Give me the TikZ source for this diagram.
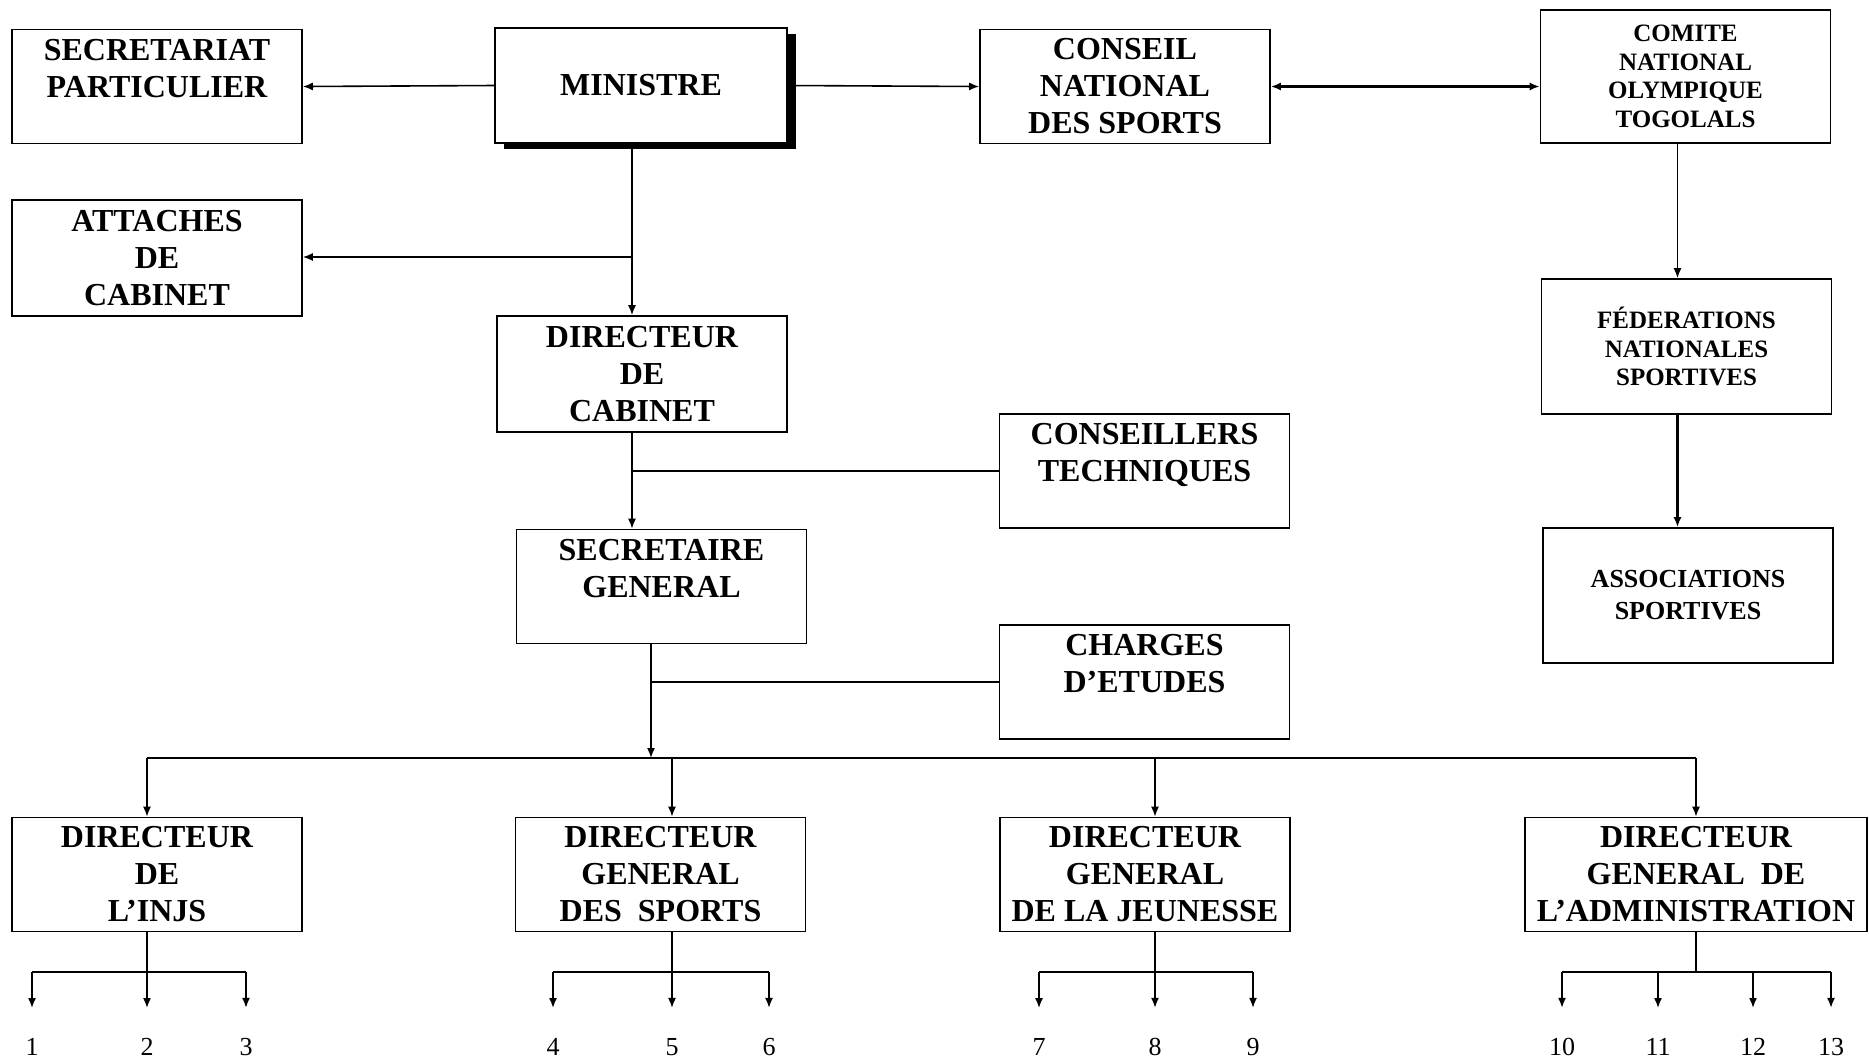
\documentclass[tikz,border=0pt]{standalone}
\usepackage{fontspec}
\setmainfont{Liberation Serif}
\usetikzlibrary{arrows.meta,shadows}

\tikzset{
  box/.style={draw, fill=white, line width=0.8pt, minimum width=145pt, minimum height=57pt,
    inner sep=0pt, align=center, font=\bfseries\fontsize{16}{18.5}\selectfont},
  smallbox/.style={box, font=\bfseries\fontsize{12.5}{14.3}\selectfont},
  link/.style={line width=0.8pt},
  arr/.style={link, -{Latex[length=5pt,width=4pt]}},
  tonum/.style={arr, shorten >=15pt},
  num/.style={inner sep=0pt, font=\fontsize{13}{15}\selectfont}
}

\begin{document}
\begin{tikzpicture}[x=0.5pt,y=-0.5pt]
  \path[use as bounding box, fill=white] (0,0) rectangle (1869,1062);

  % top row
  \node[box] (sec) at (157,86.5) {SECRETARIAT\\PARTICULIER\\ ~};
  \node[box, minimum width=146pt, minimum height=57.5pt,
        drop shadow={fill=black, opacity=1, shadow xshift=4.5pt, shadow yshift=-3pt}]
        (min) at (641,85.5) {MINISTRE};
  \node[box] (cns) at (1125,86.5) {CONSEIL\\NATIONAL\\DES SPORTS};
  \node[smallbox, minimum height=66.5pt] (cnot) at (1685.5,76.5) {COMITE\\NATIONAL\\OLYMPIQUE\\TOGOLALS};

  % cabinet
  \node[box, minimum height=58pt] (att) at (157,258) {ATTACHES\\DE\\CABINET};
  \node[box, minimum height=58pt] (dcab) at (642,374) {DIRECTEUR\\DE\\CABINET};
  \node[box] (ct) at (1144.5,471) {CONSEILLERS\\TECHNIQUES\\ ~};
  \node[box] (sg) at (661.5,586.5) {SECRETAIRE\\GENERAL\\ ~};
  \node[box] (ce) at (1144.5,682) {CHARGES\\D'ETUDES\\ ~};

  % mouvement sportif
  \node[smallbox, minimum height=67.5pt] (fns) at (1686.5,346.5) {FÉDERATIONS\\NATIONALES\\SPORTIVES};
  \node[smallbox, minimum height=67.5pt, font=\bfseries\fontsize{13}{16}\selectfont] (as) at (1688,595.5) {ASSOCIATIONS\\SPORTIVES};

  % directions
  \node[box] (dinjs) at (157,874.5) {DIRECTEUR\\DE\\L'INJS};
  \node[box] (dgs) at (660.5,874.5) {DIRECTEUR\\GENERAL\\DES~ SPORTS};
  \node[box] (dgj) at (1145,874.5) {DIRECTEUR\\GENERAL\\DE LA JEUNESSE};
  \node[box, minimum width=171pt] (dga) at (1696,874.5) {DIRECTEUR\\GENERAL~ DE\\L'ADMINISTRATION};

  \foreach \i/\x in {1/32, 2/147, 3/246, 4/553, 5/672, 6/769, 7/1039, 8/1155, 9/1253,
                     10/1562, 11/1658, 12/1753, 13/1831}
    \node[num] (n\i) at (\x,1047) {\i};

  \coordinate (spine) at (632,257);
  \coordinate (bus) at (651,758);
  \coordinate (k1) at (147,972);
  \coordinate (k2) at (672,972);
  \coordinate (k3) at (1155,972);
  \coordinate (k4) at (1696,972);

  % links
  \draw[arr] (min.west) -- (sec.east);
  \draw[arr] (min.east) -- (cns.west);
  \draw[line width=1.4pt, {Latex[length=5pt,width=4pt]}-{Latex[length=5pt,width=4pt]}]
    (cns.east) -- (cns.east -| cnot.west);
  \draw[arr] ([xshift=-4pt]cnot.south) -- ([xshift=-4pt]cnot.south |- fns.north);
  \draw[arr, line width=1.2pt] ([xshift=-4.5pt]fns.south) -- ([xshift=-4.5pt]fns.south |- as.north);

  \draw[link] (min.south -| spine) -- (spine);
  \draw[arr] (spine) -- (spine -| att.east);
  \draw[arr] (spine) -- (dcab.north -| spine);
  \draw[arr] (dcab.south -| spine) -- (sg.north -| spine);
  \draw[link] (ct.west) -- (ct.west -| spine);

  \draw[arr] (sg.south -| bus) -- (bus);
  \draw[link] (ce.west) -- (ce.west -| bus);
  \draw[link] (bus -| k1) -- (bus -| k4);
  \draw[arr] (bus -| k1) -- (dinjs.north -| k1);
  \draw[arr] (bus -| k2) -- (dgs.north -| k2);
  \draw[arr] (bus -| k3) -- (dgj.north -| k3);
  \draw[arr] (bus -| k4) -- (dga.north -| k4);

  % sub-directions
  \draw[link] (dinjs.south -| k1) -- (k1);
  \draw[link] (dgs.south -| k2) -- (k2);
  \draw[link] (dgj.south -| k3) -- (k3);
  \draw[link] (dga.south -| k4) -- (k4);
  \draw[link] (n1 |- k1) -- (n3 |- k1);
  \draw[link] (n4 |- k2) -- (n6 |- k2);
  \draw[link] (n7 |- k3) -- (n9 |- k3);
  \draw[link] (n10 |- k4) -- (n13 |- k4);
  \foreach \i in {1,2,3} \draw[tonum] (n\i |- k1) -- (n\i);
  \foreach \i in {4,5,6} \draw[tonum] (n\i |- k2) -- (n\i);
  \foreach \i in {7,8,9} \draw[tonum] (n\i |- k3) -- (n\i);
  \foreach \i in {10,11,12,13} \draw[tonum] (n\i |- k4) -- (n\i);
\end{tikzpicture}
\end{document}
